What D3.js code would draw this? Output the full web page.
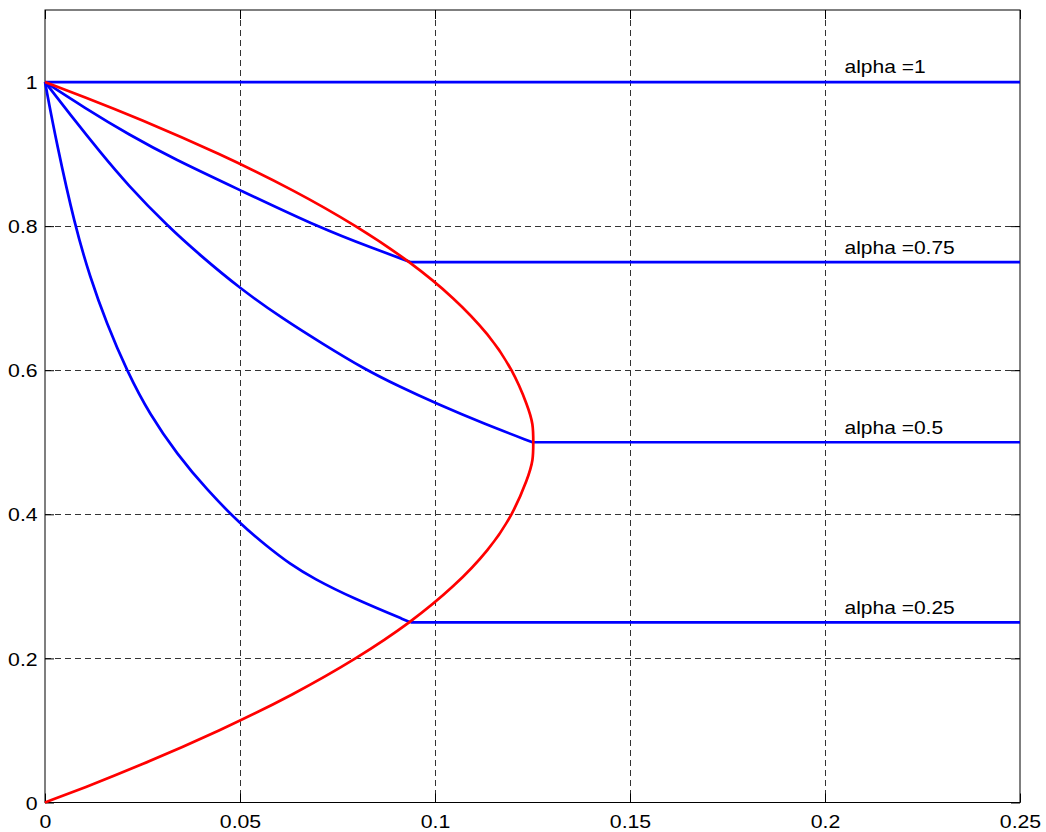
<!DOCTYPE html>
<html>
<head>
<meta charset="utf-8">
<script src="https://cdn.jsdelivr.net/npm/d3@7"></script>
<style>
  html, body { margin: 0; padding: 0; background: #ffffff; }
  svg { display: block; font-family: "Liberation Sans", Arial, sans-serif; }
</style>
</head>
<body>
<svg id="chart" width="1046" height="832"></svg>
<script>
// ---- data ----
const xTicks = [0, 0.05, 0.1, 0.15, 0.2, 0.25];
const yTicks = [0, 0.2, 0.4, 0.6, 0.8, 1];
const xTickLabels = ["0", "0.05", "0.1", "0.15", "0.2", "0.25"];
const yTickLabels = ["0", "0.2", "0.4", "0.6", "0.8", "1"];

// red boundary curve (x, y)
const redX = [0, 0.0098, 0.0238, 0.045, 0.0638, 0.080, 0.0938, 0.105, 0.1138, 0.120, 0.1238, 0.1252, 0.1252, 0.1252, 0.1238, 0.120, 0.1138, 0.105, 0.0938, 0.080, 0.0638, 0.045, 0.0238, 0.0098, 0];
const redY = [0, 0.02, 0.05, 0.1, 0.15, 0.2, 0.25, 0.3, 0.35, 0.4, 0.45, 0.475, 0.5, 0.525, 0.55, 0.6, 0.65, 0.7, 0.75, 0.8, 0.85, 0.9, 0.95, 0.98, 1];

// blue curves, one per alpha
const alphas = [1, 0.75, 0.5, 0.25];
const alphaLabels = ["alpha =1", "alpha =0.75", "alpha =0.5", "alpha =0.25"];
const blue1X = [0];
const blue1Y = [1];
const blue075X = [0, 0.0098, 0.0218, 0.0329, 0.05, 0.0705, 0.0842, 0.0938];
const blue075Y = [1, 0.9653, 0.926, 0.8937, 0.850, 0.7975, 0.769, 0.75];
const blue05X = [0, 0.0073, 0.0141, 0.0209, 0.0316, 0.0397, 0.05, 0.0611, 0.0714, 0.0816, 0.091, 0.1003, 0.1124, 0.125];
const blue05Y = [1, 0.949, 0.903, 0.859, 0.799, 0.760, 0.7134, 0.671, 0.636, 0.6024, 0.5769, 0.5538, 0.526, 0.5];
const blue025X = [0, 0.003, 0.0077, 0.0115, 0.0158, 0.021, 0.0269, 0.0338, 0.0415, 0.05, 0.0568, 0.0628, 0.0688, 0.079, 0.0938];
const blue025Y = [1, 0.914, 0.80, 0.730, 0.665, 0.599, 0.538, 0.484, 0.434, 0.387, 0.356, 0.331, 0.311, 0.2833, 0.25];
const xEnd = 0.25;
const labelX = 0.205;

// ---- layout ----
const svg = d3.select("#chart");
const L = 45, R = 1020, T = 10, B = 802.5;
const x = d3.scaleLinear().domain([0, 0.25]).range([L, R]);
const y = d3.scaleLinear().domain([0, 1.1]).range([B, T]);

svg.append("rect").attr("x", 0).attr("y", 0).attr("width", 1046).attr("height", 832).attr("fill", "#fff");

// grid
const grid = svg.append("g").attr("stroke", "#333").attr("stroke-width", 1).attr("stroke-dasharray", "6,4");
grid.selectAll("line.gx").data(xTicks.filter(v => v > 0 && v < 0.25)).join("line")
  .attr("x1", d => Math.round(x(d)) + 0.5).attr("x2", d => Math.round(x(d)) + 0.5)
  .attr("y1", T).attr("y2", B);
grid.selectAll("line.gy").data(yTicks.filter(v => v > 0)).join("line")
  .attr("y1", d => Math.round(y(d)) + 0.5).attr("y2", d => Math.round(y(d)) + 0.5)
  .attr("x1", L).attr("x2", R);

// axes with inward ticks
const sx = 1.15;
const fs = "18.5px";
const axB = svg.append("g").attr("transform", `translate(0,${B})`)
  .call(d3.axisBottom(x).tickValues(xTicks).tickFormat((d, i) => xTickLabels[i]).tickSizeInner(-9).tickSizeOuter(0).tickPadding(12.4));
const axL = svg.append("g").attr("transform", `translate(${L},0)`)
  .call(d3.axisLeft(y).tickValues(yTicks).tickFormat((d, i) => yTickLabels[i]).tickSizeInner(-9).tickSizeOuter(0).tickPadding(6.4));
const axT = svg.append("g").attr("transform", `translate(0,${T})`)
  .call(d3.axisTop(x).tickValues(xTicks).tickFormat("").tickSizeInner(-9).tickSizeOuter(0));
const axR = svg.append("g").attr("transform", `translate(${R},0)`)
  .call(d3.axisRight(y).tickValues(yTicks).tickFormat("").tickSizeInner(-9).tickSizeOuter(0));
[axB, axL, axT, axR].forEach(a => {
  a.select(".domain").remove();
  a.selectAll("line").attr("stroke", "#000");
  a.selectAll("text").attr("fill", "#000").style("font-size", fs).style("font-family", '"Liberation Sans", Arial, sans-serif');
});
axB.selectAll("text").attr("transform", `scale(${sx},1)`);
axL.selectAll("text").attr("transform", `scale(${sx},1)`).attr("dy", "0.36em");

// frame
svg.append("rect").attr("x", L).attr("y", T).attr("width", R - L).attr("height", B - T)
  .attr("fill", "none").attr("stroke", "#000").attr("stroke-width", 1);

// blue curves
const curveSets = [[blue1X, blue1Y], [blue075X, blue075Y], [blue05X, blue05Y], [blue025X, blue025Y]];
const lineS = d3.line().x(d => x(d[0])).y(d => y(d[1])).curve(d3.curveBasis);
const lineLin = d3.line().x(d => x(d[0])).y(d => y(d[1]));
const blues = svg.append("g").attr("fill", "none").attr("stroke", "#0000ff").attr("stroke-width", 2.7)
  .attr("stroke-linejoin", "round").attr("stroke-linecap", "butt");
curveSets.forEach(([xs, ys], i) => {
  const pts = xs.map((v, j) => [v, ys[j]]);
  if (pts.length > 1) blues.append("path").attr("d", lineS(pts));
  const last = pts[pts.length - 1];
  blues.append("path").attr("d", lineLin([last, [xEnd, alphas[i]]]));
});

// red curve
const redPts = redX.map((v, j) => [v, redY[j]]);
svg.append("path").attr("d", lineS(redPts))
  .attr("fill", "none").attr("stroke", "#ff0000").attr("stroke-width", 2.7).attr("stroke-linejoin", "round");

// labels
const ls = 1.2;
svg.append("g").selectAll("text").data(alphas).join("text")
  .attr("transform", d => `translate(${x(labelX)},${y(d) - 8.6}) scale(${ls},1)`)
  .attr("x", 0).attr("y", 0)
  .attr("fill", "#000").style("font-size", "17.5px")
  .text((d, i) => alphaLabels[i]);
</script>
</body>
</html>
